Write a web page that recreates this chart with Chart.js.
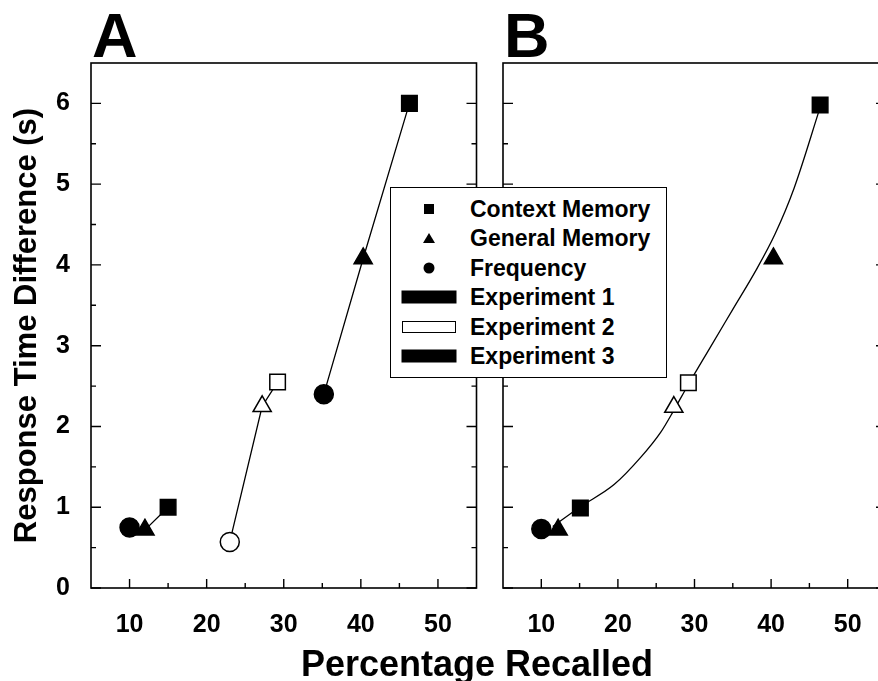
<!DOCTYPE html>
<html>
<head>
<meta charset="utf-8">
<script src="https://cdn.jsdelivr.net/npm/chart.js@4.4.1/dist/chart.umd.min.js"></script>
<style>
  html, body { margin: 0; padding: 0; width: 878px; height: 681px; overflow: hidden; background: #fff; }
  body { position: relative; font-family: 'Liberation Sans', Arial, sans-serif; font-weight: bold; color: #000; }
  #panelA { position: absolute; left: 0; top: 0; width: 489px; height: 681px; }
  #panelB { position: absolute; left: 480px; top: 0; width: 420px; height: 681px; }
  #xTitle { position: absolute; left: 227px; width: 500px; top: 646px; text-align: center; font-size: 36px; line-height: 36px; }
  #legend { position: absolute; left: 390px; top: 187px; width: 275px; height: 189px; background: #fff; border: 1.5px solid #000; }
  #legend .row { position: absolute; left: 0; width: 100%; height: 0; }
  #legend .sym { position: absolute; transform: translate(-50%, -50%); }
  #legend .txt { position: absolute; left: 79px; top: 0; transform: translateY(-50%); font-size: 23px; line-height: 23px; white-space: nowrap; }
</style>
</head>
<body>
<div id="panelA"><canvas id="chartA"></canvas></div>
<div id="panelB"><canvas id="chartB"></canvas></div>
<div id="legend"></div>
<div id="xTitle">Percentage Recalled</div>

<script>
// Axis ticks
const xTicks = [10, 20, 30, 40, 50];
const xMinor = [15, 25, 35, 45];
const yTicks = [0, 1, 2, 3, 4, 5, 6];
const yMinor = [0.5, 1.5, 2.5, 3.5, 4.5, 5.5];

// Panel labels and legend names
const panelLabels = ['A', 'B'];
const measures = ['Context Memory', 'General Memory', 'Frequency'];
const experiments = ['Experiment 1', 'Experiment 2', 'Experiment 3'];

// Panel A: each experiment, points in order Frequency -> General -> Context
const aMeasures = ['Frequency', 'General Memory', 'Context Memory'];
const aExp1Pct = [10, 12, 15];
const aExp1Rt = [0.75, 0.72, 1.0];
const aExp2Pct = [23, 27.2, 29.2];
const aExp2Rt = [0.57, 2.25, 2.55];
const aExp3Pct = [35.2, 40.3, 46.3];
const aExp3Rt = [2.4, 4.08, 6.0];

// Panel B: same studies, fitted curve
const bExp1Measures = ['Frequency', 'General Memory', 'Context Memory'];
const bExp1Pct = [10, 12.2, 15.1];
const bExp1Rt = [0.73, 0.72, 0.99];
const bExp2Measures = ['General Memory', 'Context Memory'];
const bExp2Pct = [27.3, 29.2];
const bExp2Rt = [2.24, 2.54];
const bExp3Measures = ['General Memory', 'Context Memory'];
const bExp3Pct = [40.3, 46.4];
const bExp3Rt = [4.08, 5.98];
const fitPct = [11.5, 15, 19.5, 23, 25.6, 27.3, 29.2, 32, 35, 38, 40.5, 43, 46.4];
const fitRt = [0.76, 1.0, 1.28, 1.62, 1.93, 2.2, 2.52, 2.97, 3.45, 3.93, 4.38, 4.95, 5.95];

Chart.defaults.font.family = "'Liberation Sans', Arial, sans-serif";
Chart.defaults.font.weight = 'bold';
Chart.defaults.color = '#000';

// Marker shape and size for each measure
const shapes = { 'Frequency': 'circle', 'General Memory': 'triangle', 'Context Memory': 'rect' };
const sizes = { 'Frequency': 9.5, 'General Memory': 10.5, 'Context Memory': 11 };

function toPoints(xs, ys) {
  return xs.map(function (x, i) { return { x: x, y: ys[i] }; });
}

function expDataset(xs, ys, names, open, showLine) {
  return {
    data: toPoints(xs, ys),
    showLine: showLine,
    borderColor: '#000',
    borderWidth: 1.3,
    pointStyle: names.map(function (n) { return shapes[n]; }),
    pointRadius: names.map(function (n) { return sizes[n]; }),
    pointBackgroundColor: open ? '#fff' : '#000',
    pointBorderColor: '#000',
    pointBorderWidth: 1.5
  };
}

// Plot frame with inward tick marks and the big panel letter
const frameTicks = {
  id: 'frameTicks',
  beforeDatasetsDraw(chart, args, opts) {
    const ctx = chart.ctx;
    const a = chart.chartArea;
    const x = chart.scales.x, y = chart.scales.y;
    ctx.save();
    ctx.strokeStyle = '#000';
    ctx.lineWidth = 1.6;
    ctx.strokeRect(a.left, a.top, a.right - a.left, a.bottom - a.top);
    ctx.lineWidth = 1.4;
    ctx.beginPath();
    yTicks.concat(yMinor).forEach(function (v) {
      const len = yTicks.includes(v) ? 10 : 5;
      const p = y.getPixelForValue(v);
      ctx.moveTo(a.left, p); ctx.lineTo(a.left + len, p);
      ctx.moveTo(a.right, p); ctx.lineTo(a.right - len, p);
    });
    xTicks.concat(xMinor).forEach(function (v) {
      const len = xTicks.includes(v) ? 9 : 5;
      const p = x.getPixelForValue(v);
      ctx.moveTo(p, a.bottom); ctx.lineTo(p, a.bottom - len);
    });
    ctx.stroke();
    ctx.fillStyle = '#000';
    ctx.font = "bold 63px 'Liberation Sans', Arial, sans-serif";
    ctx.textBaseline = 'alphabetic';
    ctx.fillText(opts.label, a.left + 1, a.top - 6);
    ctx.restore();
  }
};

function makePanel(canvasId, label, datasets, showY, yWidth, rightPad) {
  return new Chart(document.getElementById(canvasId), {
    type: 'scatter',
    data: { datasets: datasets },
    options: {
      responsive: true,
      maintainAspectRatio: false,
      animation: false,
      layout: { padding: { left: 0, top: 63, right: rightPad, bottom: 0 } },
      plugins: {
        legend: { display: false },
        tooltip: { enabled: false },
        frameTicks: { label: label }
      },
      scales: {
        x: {
          type: 'linear', min: 5, max: 55,
          grid: { display: false },
          border: { display: false },
          afterBuildTicks: function (s) { s.ticks = xTicks.map(function (v) { return { value: v }; }); },
          afterFit: function (s) { s.height = 93; },
          ticks: { padding: 14, font: { size: 25, weight: 'bold' }, color: '#000' }
        },
        y: {
          type: 'linear', min: 0, max: 6.5,
          grid: { display: false },
          border: { display: false },
          afterBuildTicks: function (s) { s.ticks = yTicks.map(function (v) { return { value: v }; }); },
          afterFit: function (s) { s.width = yWidth; },
          ticks: { display: showY, padding: 13, font: { size: 25, weight: 'bold' }, color: '#000' },
          title: {
            display: showY,
            text: 'Response Time Difference (s)',
            font: { size: 31, weight: 'bold' },
            color: '#000',
            padding: { top: 9, bottom: 0 }
          }
        }
      }
    },
    plugins: [frameTicks]
  });
}

// Panel A: points joined within each experiment
makePanel('chartA', panelLabels[0], [
  expDataset(aExp1Pct, aExp1Rt, aMeasures, false, true),
  expDataset(aExp2Pct, aExp2Rt, aMeasures, true, true),
  expDataset(aExp3Pct, aExp3Rt, aMeasures, false, true)
], true, 91, 12);

// Panel B: points plus one fitted curve (curve last so it sits underneath)
makePanel('chartB', panelLabels[1], [
  expDataset(bExp1Pct, bExp1Rt, bExp1Measures, false, false),
  expDataset(bExp2Pct, bExp2Rt, bExp2Measures, true, false),
  expDataset(bExp3Pct, bExp3Rt, bExp3Measures, false, false),
  {
    data: toPoints(fitPct, fitRt),
    showLine: true,
    borderColor: '#000',
    borderWidth: 1.3,
    pointRadius: 0,
    cubicInterpolationMode: 'monotone'
  }
], false, 23, 14);

// Building the shared legend box
var legendSymbols = [
  "<div style='width:10px;height:10px;background:#000'></div>",
  "<div style='width:0;height:0;border-left:6px solid transparent;border-right:6px solid transparent;border-bottom:10px solid #000'></div>",
  "<div style='width:11px;height:11px;border-radius:50%;background:#000'></div>",
  "<div style='width:55px;height:13px;background:#000'></div>",
  "<div style='width:52px;height:10px;background:#fff;border:1.5px solid #000'></div>",
  "<div style='width:55px;height:13px;background:#000'></div>"
];
var legendNames = measures.concat(experiments);
var legendHTML = "";
legendNames.forEach(function (name, i) {
  var top = 21 + i * 29.4;
  legendHTML += "<div class='row' style='top:" + top + "px'>" +
    "<div class='sym' style='left:38px;top:0'>" + legendSymbols[i] + "</div>" +
    "<div class='txt'>" + name + "</div></div>";
});
document.getElementById('legend').innerHTML = legendHTML;
</script>
</body>
</html>
